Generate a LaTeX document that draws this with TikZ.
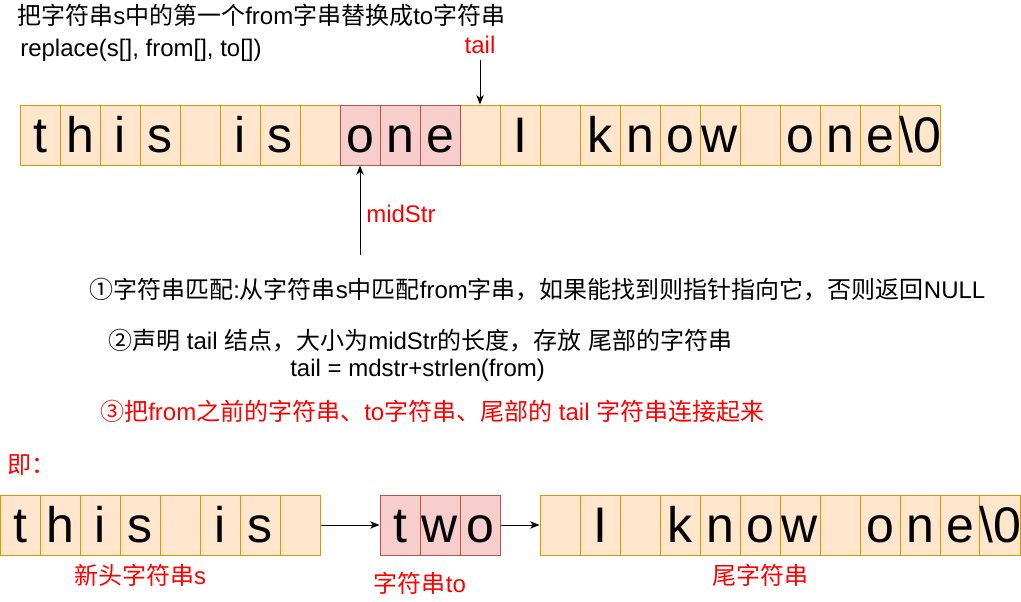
\documentclass[tikz,border=0pt]{standalone}
\usepackage{fontspec}
\setmainfont{Liberation Sans}
\newfontfamily\cjk{Noto Sans CJK SC}
\usetikzlibrary{arrows.meta}
\newcommand\zh[1]{{\cjk #1}}
\definecolor{ofill}{HTML}{FFE6CC}
\definecolor{ostroke}{HTML}{D79B00}
\definecolor{rfill}{HTML}{F8CECC}
\definecolor{rstroke}{HTML}{B85450}
\definecolor{redtxt}{HTML}{FF0000}
\begin{document}
\begin{tikzpicture}[x=0.75pt,y=-0.75pt,
  cell/.style={draw=ostroke, fill=ofill, line width=0.75pt, minimum width=30pt, minimum height=45pt,
    inner sep=0pt, font=\fontsize{37.5}{40}\selectfont, text height=25.5pt, text depth=0pt},
  hcell/.style={cell, draw=rstroke, fill=rfill},
  txt/.style={font=\fontsize{18}{21}\selectfont, inner sep=0pt, text=black},
  rtxt/.style={txt, text=redtxt},
  arr/.style={draw=black, line width=0.75pt, -{Stealth[length=7pt,width=5.5pt,inset=2pt]}}
]
\fill[white] (0,0) rectangle (1021,601);
\useasboundingbox (0,0) rectangle (1021,601);

% titles
\node[txt, anchor=west] (title) at (17,15) {\zh{把字符串}s\zh{中的第一个}from\zh{字串替换成}to\zh{字符串}};
\node[txt, anchor=west] (sig) at (20,50) {replace(s[], from[], to[])};

% top row
\foreach \i/\c in {0/t,1/h,2/i,3/s,4/{},5/i,6/s,7/{},11/{},12/I,13/{},14/k,15/n,16/o,17/w,18/{},19/o,20/n,21/e,22/{\textbackslash 0}}
  \node[cell] (a\i) at ({40+40*\i},135) {\c};
\foreach \i/\c in {8/o,9/n,10/e}
  \node[hcell] (a\i) at ({40+40*\i},135) {\c};

% tail pointer
\node[rtxt] (taillbl) at (480,45) {tail};
\coordinate (tailstart) at (480,60);
\draw[arr] (tailstart) -- (a11.north);

% midStr pointer
\node[rtxt, anchor=west] (midlbl) at (366,214) {midStr};
\coordinate (midstart) at (360,255);
\draw[arr] (midstart) -- (a8.south);

% steps
\node[txt, anchor=west] (s1) at (89,290) {\zh{①字符串匹配}:\zh{从字符串}s\zh{中匹配}from\zh{字串，如果能找到则指针指向它，否则返回}NULL};
\node[txt, anchor=west] (s2) at (108,341) {\zh{②声明} tail \zh{结点，大小为}midStr\zh{的长度，存放} \zh{尾部的字符串}};
\node[txt, anchor=west] (s2b) at (290,370) {tail = mdstr+strlen(from)};
\node[rtxt, anchor=west] (s3) at (100,411) {\zh{③把}from\zh{之前的字符串、}to\zh{字符串、尾部的} tail \zh{字符串连接起来}};
\node[rtxt, anchor=west] (ji) at (7,465) {\zh{即：}};

% bottom rows
\foreach \i/\c in {0/t,1/h,2/i,3/s,4/{},5/i,6/s,7/{}}
  \node[cell] (h\i) at ({20+40*\i},525) {\c};
\foreach \i/\c in {0/t,1/w,2/o}
  \node[hcell] (w\i) at ({400+40*\i},525) {\c};
\foreach \i/\c in {0/{},1/I,2/{},3/k,4/n,5/o,6/w,7/{},8/o,9/n,10/e,11/{\textbackslash 0}}
  \node[cell] (t\i) at ({560+40*\i},525) {\c};

\draw[arr] (h7.east) -- (w0.west);
\draw[arr] (w2.east) -- (t0.west);

\node[rtxt] (lblhead) at (140,575) {\zh{新头字符串}s};
\node[rtxt] (lblto) at (420,583) {\zh{字符串}to};
\node[rtxt] (lbltail) at (760,575) {\zh{尾字符串}};
\end{tikzpicture}
\end{document}
